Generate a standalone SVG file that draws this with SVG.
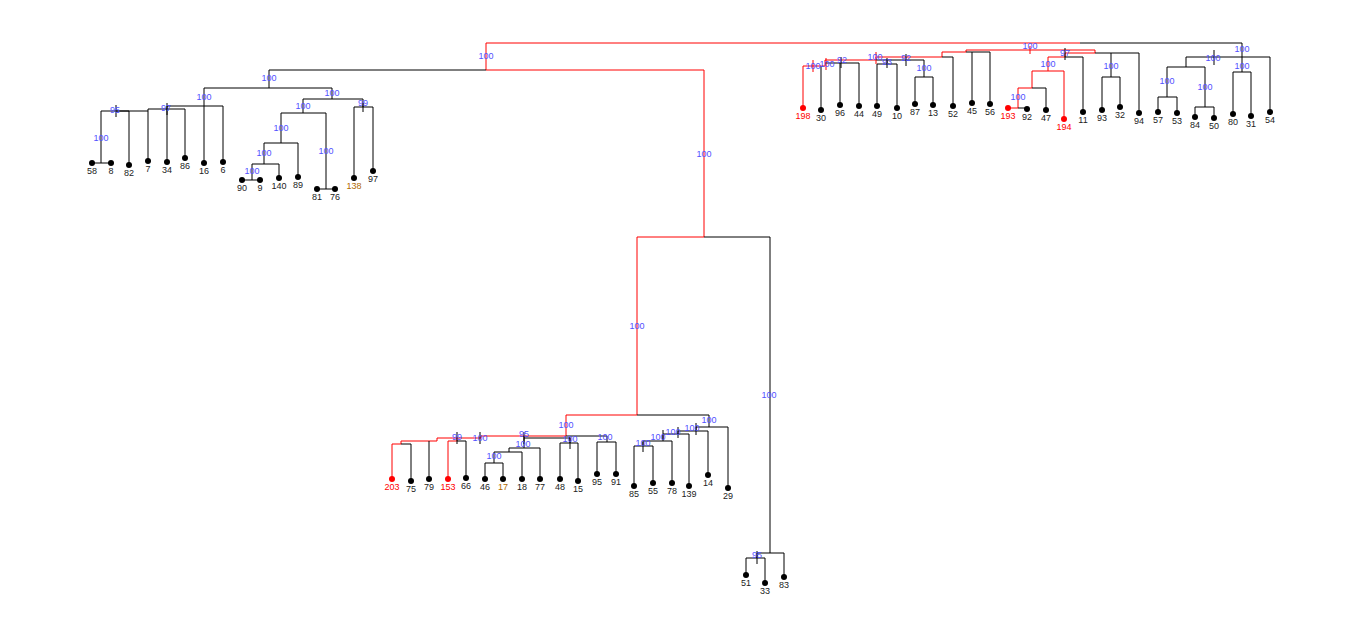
<svg xmlns="http://www.w3.org/2000/svg" width="1362" height="625" viewBox="0 0 1362 625">
<style>
.b{fill:none;stroke:#000;stroke-width:1}
.r{fill:none;stroke:#f00;stroke-width:1}
.s{font-family:"Liberation Sans",Arial,sans-serif;font-size:9px;fill:#5050ff;text-anchor:middle}
.l{font-family:"Liberation Sans",Arial,sans-serif;font-size:9px;fill:#222;text-anchor:middle}
.lr{fill:#f00}.lo{fill:#b06a00}
.d{fill:#000}.dr{fill:#f00}
</style>
<rect width="1362" height="625" fill="#fff"/>
<g id="connectors">
<path class="r" d="M486 43H1080M486 43V70H704V237H637V415H566V436H481M481 436V438H437V441H401V444H392V479M457 438V441H448V479M966 50H1095V53M1065 53H1095M1065 53V57H1048V71M1032 71H1064V119M1032 71V88H1018V108H1008M966 50V52H942V57H876V60H825V66H803V108"/>
<path class="b" d="M1080 43H1242M269 70H486M269 70V88M204 88H332M204 88V106M167 106H223M204 106V163M223 106V162M167 106V109M148 109H185M148 109V161M167 109V162M185 109V158M116 111H148M101 111H129M101 111V163M92 163H111M129 111V165M332 88V99M303 99H363M363 99V107M354 107H373M354 107V178M373 107V171M303 99V113M281 113H326M326 113V189M317 189H335M281 113V143M264 143H298M298 143V177M264 143V164M252 164H279M279 164V178M252 164V180M242 180H260M116 105V117M167 103V115M363 103V112M704 237H770V553M637 415H709V427M566 436H607V442M597 442H616M597 442V474M616 442V474M524 436V438H570V443M560 443H578M560 443V479M578 443V481M524 438V448M509 448H540M540 448V479M509 448V452M494 452H522M522 452V479M494 452V463M485 463H503M485 463V479M503 463V479M401 444H411V481M429 441V479M457 441H466V478M524 432V444M570 437V449M480 432V444M457 432V444M696 427H728V488M696 427V431M678 431H708V475M678 431V434M663 434H689V486M663 434V441M643 441H672V483M643 441V446M634 446H653V483M634 446V486M696 423V435M678 427V438M663 430V440M643 442V452M757 553H784V577M757 553V558M746 558H765V583M746 558V575M757 551V564M1095 53H1139V113M1065 57H1083V112M1032 88H1046V110M1018 108H1027V109M1111 53V77M1102 77H1120M1102 77V110M1120 77V107M1065 48V60M966 52H990V104M972 52V103M942 57H953V106M876 60H924V77M915 77H933M915 77V104M933 77V105M887 60V64M877 64H897M877 64V106M897 64V108M821 66V110M825 63H859M840 63V105M859 63V106M906 54V66M887 58V68M841 57V68M1242 43V57M1186 57H1270V112M1186 57V67M1167 67H1205M1167 67V97M1158 97H1177M1158 97V112M1177 97V113M1205 67V107M1195 107H1214M1195 107V117M1214 107V118M1242 57V72M1233 72H1251M1233 72V114M1251 72V116M1214 50V65"/>
<path class="r" d="M876 52V64M813 60V72M826 58V70M1030 46V54"/>
</g>
<g id="support">
<text class="s" x="486" y="59">100</text><text class="s" x="269" y="81">100</text><text class="s" x="204" y="100">100</text><text class="s" x="332" y="96">100</text><text class="s" x="363" y="106">99</text><text class="s" x="303" y="109">100</text><text class="s" x="281" y="131">100</text><text class="s" x="326" y="154">100</text><text class="s" x="264" y="156">100</text><text class="s" x="252" y="174">100</text><text class="s" x="101" y="141">100</text><text class="s" x="115" y="113">95</text><text class="s" x="166" y="111">97</text>
<text class="s" x="704" y="157">100</text><text class="s" x="637" y="329">100</text><text class="s" x="769" y="398">100</text><text class="s" x="566" y="428">100</text><text class="s" x="709" y="423">100</text>
<text class="s" x="524" y="437">95</text><text class="s" x="570" y="442">100</text><text class="s" x="605" y="440">100</text><text class="s" x="523" y="447">100</text><text class="s" x="494" y="459">100</text><text class="s" x="480" y="441">100</text><text class="s" x="457" y="440">99</text>
<text class="s" x="692" y="431">100</text><text class="s" x="673" y="435">100</text><text class="s" x="658" y="440">100</text><text class="s" x="643" y="446">100</text><text class="s" x="757" y="558">95</text>
<text class="s" x="1030" y="49">100</text><text class="s" x="1065" y="56">97</text><text class="s" x="1048" y="67">100</text><text class="s" x="1018" y="100">100</text><text class="s" x="1111" y="69">100</text>
<text class="s" x="875" y="60">100</text><text class="s" x="813" y="69">100</text><text class="s" x="827" y="67">100</text><text class="s" x="842" y="63">92</text><text class="s" x="887" y="65">93</text><text class="s" x="906" y="61">92</text><text class="s" x="924" y="71">100</text>
<text class="s" x="1242" y="52">100</text><text class="s" x="1213" y="61">100</text><text class="s" x="1242" y="69">100</text><text class="s" x="1167" y="84">100</text><text class="s" x="1205" y="90">100</text>
</g>
<g id="leaves">
<g class="d">
<circle cx="92" cy="163" r="3"/><circle cx="111" cy="163" r="3"/><circle cx="129" cy="165" r="3"/><circle cx="148" cy="161" r="3"/><circle cx="167" cy="162" r="3"/><circle cx="185" cy="158" r="3"/><circle cx="204" cy="163" r="3"/><circle cx="223" cy="162" r="3"/><circle cx="242" cy="180" r="3"/><circle cx="260" cy="180" r="3"/><circle cx="279" cy="178" r="3"/><circle cx="298" cy="177" r="3"/><circle cx="317" cy="189" r="3"/><circle cx="335" cy="189" r="3"/><circle cx="354" cy="178" r="3"/><circle cx="373" cy="171" r="3"/>
<circle cx="821" cy="110" r="3"/><circle cx="840" cy="105" r="3"/><circle cx="859" cy="106" r="3"/><circle cx="877" cy="106" r="3"/><circle cx="897" cy="108" r="3"/><circle cx="915" cy="104" r="3"/><circle cx="933" cy="105" r="3"/><circle cx="953" cy="106" r="3"/><circle cx="972" cy="103" r="3"/><circle cx="990" cy="104" r="3"/><circle cx="1027" cy="109" r="3"/><circle cx="1046" cy="110" r="3"/><circle cx="1083" cy="112" r="3"/><circle cx="1102" cy="110" r="3"/><circle cx="1120" cy="107" r="3"/><circle cx="1139" cy="113" r="3"/><circle cx="1158" cy="112" r="3"/><circle cx="1177" cy="113" r="3"/><circle cx="1195" cy="117" r="3"/><circle cx="1214" cy="118" r="3"/><circle cx="1233" cy="114" r="3"/><circle cx="1251" cy="116" r="3"/><circle cx="1270" cy="112" r="3"/>
<circle cx="411" cy="481" r="3"/><circle cx="429" cy="479" r="3"/><circle cx="466" cy="478" r="3"/><circle cx="485" cy="479" r="3"/><circle cx="503" cy="479" r="3"/><circle cx="522" cy="479" r="3"/><circle cx="540" cy="479" r="3"/><circle cx="560" cy="479" r="3"/><circle cx="578" cy="481" r="3"/><circle cx="597" cy="474" r="3"/><circle cx="616" cy="474" r="3"/><circle cx="634" cy="486" r="3"/><circle cx="653" cy="483" r="3"/><circle cx="672" cy="483" r="3"/><circle cx="689" cy="486" r="3"/><circle cx="708" cy="475" r="3"/><circle cx="728" cy="488" r="3"/><circle cx="746" cy="575" r="3"/><circle cx="765" cy="583" r="3"/><circle cx="784" cy="577" r="3"/>
</g>
<g class="dr"><circle cx="803" cy="108" r="3"/><circle cx="1008" cy="108" r="3"/><circle cx="1064" cy="119" r="3"/><circle cx="392" cy="479" r="3"/><circle cx="448" cy="479" r="3"/></g>
<g class="l">
<text x="92" y="174">58</text><text x="111" y="174">8</text><text x="129" y="176">82</text><text x="148" y="172">7</text><text x="167" y="173">34</text><text x="185" y="169">86</text><text x="204" y="174">16</text><text x="223" y="173">6</text><text x="242" y="191">90</text><text x="260" y="191">9</text><text x="279" y="189">140</text><text x="298" y="188">89</text><text x="317" y="200">81</text><text x="335" y="200">76</text><text class="lo" x="354" y="189">138</text><text x="373" y="182">97</text>
<text class="lr" x="803" y="119">198</text><text x="821" y="121">30</text><text x="840" y="116">96</text><text x="859" y="117">44</text><text x="877" y="117">49</text><text x="897" y="119">10</text><text x="915" y="115">87</text><text x="933" y="116">13</text><text x="953" y="117">52</text><text x="972" y="114">45</text><text x="990" y="115">56</text><text class="lr" x="1008" y="119">193</text><text x="1027" y="120">92</text><text x="1046" y="121">47</text><text class="lr" x="1064" y="130">194</text><text x="1083" y="123">11</text><text x="1102" y="121">93</text><text x="1120" y="118">32</text><text x="1139" y="124">94</text><text x="1158" y="123">57</text><text x="1177" y="124">53</text><text x="1195" y="128">84</text><text x="1214" y="129">50</text><text x="1233" y="125">80</text><text x="1251" y="127">31</text><text x="1270" y="123">54</text>
<text class="lr" x="392" y="490">203</text><text x="411" y="492">75</text><text x="429" y="490">79</text><text class="lr" x="448" y="490">153</text><text x="466" y="489">66</text><text x="485" y="490">46</text><text class="lo" x="503" y="490">17</text><text x="522" y="490">18</text><text x="540" y="490">77</text><text x="560" y="490">48</text><text x="578" y="492">15</text><text x="597" y="485">95</text><text x="616" y="485">91</text><text x="634" y="497">85</text><text x="653" y="494">55</text><text x="672" y="494">78</text><text x="689" y="497">139</text><text x="708" y="486">14</text><text x="728" y="499">29</text><text x="746" y="586">51</text><text x="765" y="594">33</text><text x="784" y="588">83</text>
</g>
</g>
</svg>
